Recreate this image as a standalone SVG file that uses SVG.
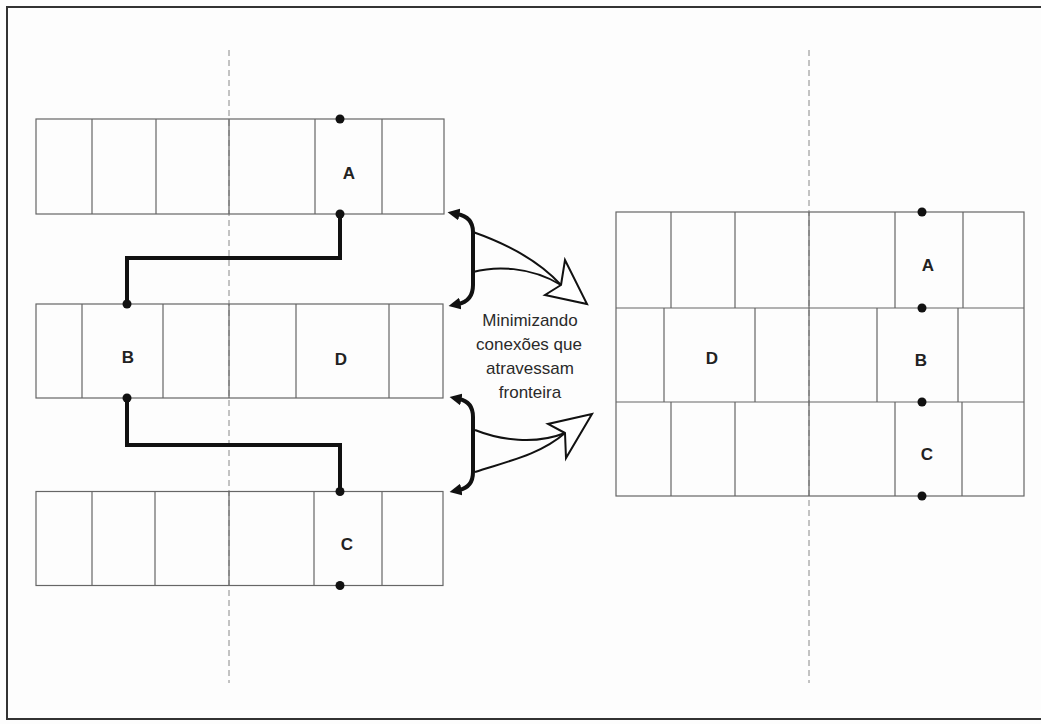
<svg xmlns="http://www.w3.org/2000/svg" width="1041" height="724" viewBox="0 0 1041 724">
<defs>
<style>
.cell{fill:none;stroke:#666;stroke-width:1.2}
.div{stroke:#666;stroke-width:1.2}
.dash{stroke:#888;stroke-width:1;stroke-dasharray:6 4;fill:none}
.lbl{font-family:"Liberation Sans",Arial,sans-serif;font-weight:bold;font-size:17px;fill:#222;text-anchor:middle}
.cap{font-family:"Liberation Sans",Arial,sans-serif;font-size:17px;fill:#2a2a2a;text-anchor:middle}
.wire{fill:none;stroke:#111;stroke-width:4;stroke-linejoin:miter}
.dot{fill:#111}
.brace{fill:none;stroke:#111;stroke-width:4;marker-start:url(#ah);marker-end:url(#ah)}
.thin{fill:none;stroke:#111;stroke-width:2}
.head{fill:#fff;stroke:#111;stroke-width:2;stroke-linejoin:miter}
</style>
<marker id="ah" viewBox="0 0 10 10" refX="2" refY="5" markerWidth="12" markerHeight="12" markerUnits="userSpaceOnUse" orient="auto-start-reverse">
<path d="M0,0 L10,5 L0,10 z" fill="#111"/>
</marker>
</defs>
<rect x="0" y="0" width="1041" height="724" fill="#fdfdfd"/>
<rect x="7" y="7" width="1045" height="712" fill="none" stroke="#333" stroke-width="2"/>

<g id="boundaries">
<line class="dash" x1="229" y1="50" x2="229" y2="683"/>
<line class="dash" x1="809" y1="50" x2="809" y2="683"/>
</g>

<g id="left-row-A">
<rect class="cell" x="36" y="119" width="408" height="95"/>
<line class="div" x1="92" y1="119" x2="92" y2="214"/>
<line class="div" x1="156" y1="119" x2="156" y2="214"/>
<line class="div" x1="229" y1="119" x2="229" y2="214"/>
<line class="div" x1="315" y1="119" x2="315" y2="214"/>
<line class="div" x1="382" y1="119" x2="382" y2="214"/>
<text class="lbl" x="349" y="179">A</text>
</g>
<g id="left-row-B">
<rect class="cell" x="36" y="304" width="407" height="94"/>
<line class="div" x1="82" y1="304" x2="82" y2="398"/>
<line class="div" x1="163" y1="304" x2="163" y2="398"/>
<line class="div" x1="229" y1="304" x2="229" y2="398"/>
<line class="div" x1="296" y1="304" x2="296" y2="398"/>
<line class="div" x1="389" y1="304" x2="389" y2="398"/>
<text class="lbl" x="128" y="363">B</text>
<text class="lbl" x="341" y="365">D</text>
</g>
<g id="left-row-C">
<rect class="cell" x="36" y="491.5" width="407" height="94"/>
<line class="div" x1="92" y1="491.5" x2="92" y2="585.5"/>
<line class="div" x1="155" y1="491.5" x2="155" y2="585.5"/>
<line class="div" x1="229" y1="491.5" x2="229" y2="585.5"/>
<line class="div" x1="314" y1="491.5" x2="314" y2="585.5"/>
<line class="div" x1="382" y1="491.5" x2="382" y2="585.5"/>
<text class="lbl" x="347" y="550">C</text>
</g>

<g id="right-grid">
<rect class="cell" x="616" y="212" width="408" height="284"/>
<line class="div" x1="616" y1="308" x2="1024" y2="308"/>
<line class="div" x1="616" y1="402" x2="1024" y2="402"/>
<line class="div" x1="671" y1="212" x2="671" y2="308"/>
<line class="div" x1="735" y1="212" x2="735" y2="308"/>
<line class="div" x1="809" y1="212" x2="809" y2="308"/>
<line class="div" x1="895" y1="212" x2="895" y2="308"/>
<line class="div" x1="963" y1="212" x2="963" y2="308"/>
<line class="div" x1="664" y1="308" x2="664" y2="402"/>
<line class="div" x1="755" y1="308" x2="755" y2="402"/>
<line class="div" x1="809" y1="308" x2="809" y2="402"/>
<line class="div" x1="877" y1="308" x2="877" y2="402"/>
<line class="div" x1="958" y1="308" x2="958" y2="402"/>
<line class="div" x1="671" y1="402" x2="671" y2="496"/>
<line class="div" x1="735" y1="402" x2="735" y2="496"/>
<line class="div" x1="809" y1="402" x2="809" y2="496"/>
<line class="div" x1="895" y1="402" x2="895" y2="496"/>
<line class="div" x1="962" y1="402" x2="962" y2="496"/>
<text class="lbl" x="928" y="271">A</text>
<text class="lbl" x="921" y="366">B</text>
<text class="lbl" x="927" y="460">C</text>
<text class="lbl" x="712" y="364">D</text>
<circle class="dot" cx="922" cy="212" r="4.5"/>
<circle class="dot" cx="922" cy="308" r="4.5"/>
<circle class="dot" cx="922" cy="402" r="4.5"/>
<circle class="dot" cx="922" cy="496" r="4.5"/>
</g>

<g id="connectors">
<path class="wire" d="M340,214 V258 H127 V304"/>
<path class="wire" d="M127,398 V445 H340 V491.5"/>
<circle class="dot" cx="340" cy="119" r="4.5"/>
<circle class="dot" cx="340" cy="214" r="4.5"/>
<circle class="dot" cx="127" cy="304" r="4.5"/>
<circle class="dot" cx="127" cy="398" r="4.5"/>
<circle class="dot" cx="340" cy="491.5" r="4.5"/>
<circle class="dot" cx="340" cy="585.5" r="4.5"/>
</g>

<g id="transform-arrows">
<path class="brace" d="M457,214 C468,216 473,222 473,232 V285 C473,295 468,302 458,304"/>
<path class="thin" d="M473,232 C510,245 540,262 561,285"/>
<path class="thin" d="M473,272 C495,266 530,266 561,285"/>
<path class="head" d="M561,285 L565,260 L587,304 L545,295 Z"/>
<path class="brace" d="M459,399 C469,401 473,407 473,417 V472 C473,482 469,488 459,490"/>
<path class="thin" d="M475,430 C500,440 535,445 565,433"/>
<path class="thin" d="M475,472 C505,462 540,455 565,433"/>
<path class="head" d="M565,433 L548,424 L592,414 L566,458 Z"/>
</g>

<g id="caption">
<text class="cap" x="530" y="326">Minimizando</text>
<text class="cap" x="529" y="350">conexões que</text>
<text class="cap" x="530" y="374">atravessam</text>
<text class="cap" x="530" y="398">fronteira</text>
</g>
</svg>
